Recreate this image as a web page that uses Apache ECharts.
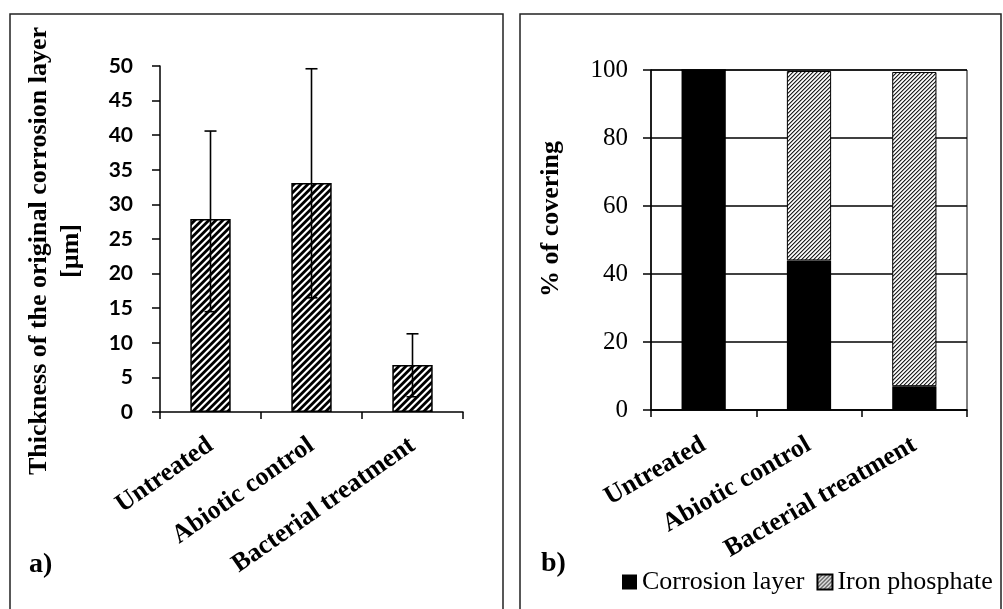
<!DOCTYPE html>
<html>
<head>
<meta charset="utf-8">
<script src="https://cdn.jsdelivr.net/npm/echarts@6/dist/echarts.min.js"></script>
<style>
html,body{margin:0;padding:0;background:#fff;}
#chart{width:1003px;height:609px;}
</style>
</head>
<body>
<div id="chart"></div>
<script>
// ---- data ----
const categories = ['Untreated', 'Abiotic control', 'Bacterial treatment'];
const thickness = [27.9, 33.1, 6.8];
const thicknessLow = [14.5, 16.5, 2.2];
const thicknessHigh = [40.6, 49.6, 11.3];
const corrosionLayer = [100, 44, 7];
const ironPhosphate = [0, 55.7, 92.4];
const thicknessTitle = 'Thickness of the original corrosion layer\n[\u00b5m]';
const coveringTitle = '% of covering';
const seriesNames = ['Corrosion layer', 'Iron phosphate'];

// ---- hatch patterns ----
function makeHatch(size, shades) {
  const c = document.createElement('canvas');
  c.width = size; c.height = size;
  const ctx = c.getContext('2d');
  for (let x = 0; x < size; x++) {
    for (let y = 0; y < size; y++) {
      ctx.fillStyle = shades[(x + y) % shades.length];
      ctx.fillRect(x, y, 1, 1);
    }
  }
  return c;
}
const boldHatch = makeHatch(7, ['#000', '#000', '#000', '#555', '#fff', '#fff', '#aaa']);
const fineHatch = makeHatch(4, ['#222', '#999', '#fff', '#ddd']);

const serif = '"Liberation Serif", "Times New Roman", serif';

const errData = categories.map((c, i) => [i, thicknessLow[i], thicknessHigh[i]]);

const chart = echarts.init(document.getElementById('chart'));
chart.setOption({
  animation: false,
  backgroundColor: '#fff',
  graphic: [
    { type: 'rect', shape: { x: 10, y: 14, width: 493, height: 620 }, style: { fill: 'none', stroke: '#222', lineWidth: 1.5 }, silent: true },
    { type: 'rect', shape: { x: 520, y: 14, width: 481, height: 620 }, style: { fill: 'none', stroke: '#222', lineWidth: 1.5 }, silent: true },
    { type: 'text', left: 29, top: 551, style: { text: 'a)', font: 'bold 28px ' + serif, fill: '#000' } },
    { type: 'text', left: 541, top: 550, style: { text: 'b)', font: 'bold 28px ' + serif, fill: '#000' } }
  ],
  legend: {
    data: seriesNames,
    left: 622, top: 569, padding: 0,
    itemWidth: 15, itemHeight: 15, itemGap: 12,
    textStyle: { fontFamily: serif, fontSize: 26, color: '#000' },
    icon: 'rect'
  },
  grid: [
    { left: 160, top: 66, width: 303, height: 346 },
    { left: 651, top: 70, width: 316, height: 340, show: true, borderColor: '#000', borderWidth: 1 }
  ],
  xAxis: [
    {
      type: 'category', gridIndex: 0, data: categories,
      axisLine: { lineStyle: { color: '#000', width: 1.5 } },
      axisTick: { show: true, length: 7, lineStyle: { color: '#000', width: 1.5 } },
      axisLabel: { rotate: 35, margin: 31, interval: 0, fontFamily: serif, fontWeight: 'bold', fontSize: 26, color: '#000' }
    },
    {
      type: 'category', gridIndex: 1, data: categories,
      axisLine: { lineStyle: { color: '#000', width: 1.5 } },
      axisTick: { show: true, length: 7, lineStyle: { color: '#000', width: 1.5 } },
      axisLabel: { rotate: 30, margin: 33, interval: 0, fontFamily: serif, fontWeight: 'bold', fontSize: 26, color: '#000' }
    }
  ],
  yAxis: [
    {
      type: 'value', gridIndex: 0, min: 0, max: 50, interval: 5,
      axisLine: { show: true, lineStyle: { color: '#000', width: 1.5 } },
      axisTick: { show: true, length: 8, lineStyle: { color: '#000', width: 1.5 } },
      splitLine: { show: false },
      axisLabel: { margin: 27, fontFamily: 'Lato', fontWeight: 'bold', fontSize: 21, color: '#000' },
      name: thicknessTitle, nameLocation: 'middle', nameGap: 73, nameRotate: 90,
      nameTextStyle: { fontFamily: serif, fontWeight: 'bold', fontSize: 26, color: '#000', lineHeight: 32, padding: [0, 24, 0, 0] }
    },
    {
      type: 'value', gridIndex: 1, min: 0, max: 100, interval: 20,
      axisLine: { show: true, lineStyle: { color: '#000', width: 1.5 } },
      axisTick: { show: true, length: 8, lineStyle: { color: '#000', width: 1.5 } },
      splitLine: { show: true, lineStyle: { color: '#000', width: 1.5 } },
      axisLabel: { margin: 23, fontFamily: serif, fontSize: 25, color: '#000' },
      name: coveringTitle, nameLocation: 'middle', nameGap: 87, nameRotate: 90,
      nameTextStyle: { fontFamily: serif, fontWeight: 'bold', fontSize: 26, color: '#000', padding: [0, 0, 0, 42] }
    }
  ],
  series: [
    {
      name: 'Thickness', type: 'bar', xAxisIndex: 0, yAxisIndex: 0, data: thickness,
      barWidth: '40%',
      itemStyle: { color: { image: boldHatch, repeat: 'repeat' }, borderColor: '#000', borderWidth: 1.5 }
    },
    {
      name: 'Error', type: 'custom', xAxisIndex: 0, yAxisIndex: 0, data: errData, z: 5,
      encode: { x: 0, y: [1, 2] },
      renderItem: function (params, api) {
        const i = api.value(0);
        const lo = api.coord([i, api.value(1)]);
        const hi = api.coord([i, api.value(2)]);
        const hw = 6;
        const st = { stroke: '#000', lineWidth: 1.6 };
        return {
          type: 'group', children: [
            { type: 'line', shape: { x1: hi[0], y1: hi[1], x2: lo[0], y2: lo[1] }, style: st },
            { type: 'line', shape: { x1: hi[0] - hw, y1: hi[1], x2: hi[0] + hw, y2: hi[1] }, style: st },
            { type: 'line', shape: { x1: lo[0] - hw, y1: lo[1], x2: lo[0] + hw, y2: lo[1] }, style: st }
          ]
        };
      }
    },
    {
      name: seriesNames[0], type: 'bar', xAxisIndex: 1, yAxisIndex: 1, stack: 'cov', data: corrosionLayer,
      barWidth: '42%',
      itemStyle: { color: '#000' }
    },
    {
      name: seriesNames[1], type: 'bar', xAxisIndex: 1, yAxisIndex: 1, stack: 'cov', data: ironPhosphate,
      barWidth: '42%',
      itemStyle: { color: { image: fineHatch, repeat: 'repeat' }, borderColor: '#000', borderWidth: 1 }
    }
  ]
});
</script>
</body>
</html>
